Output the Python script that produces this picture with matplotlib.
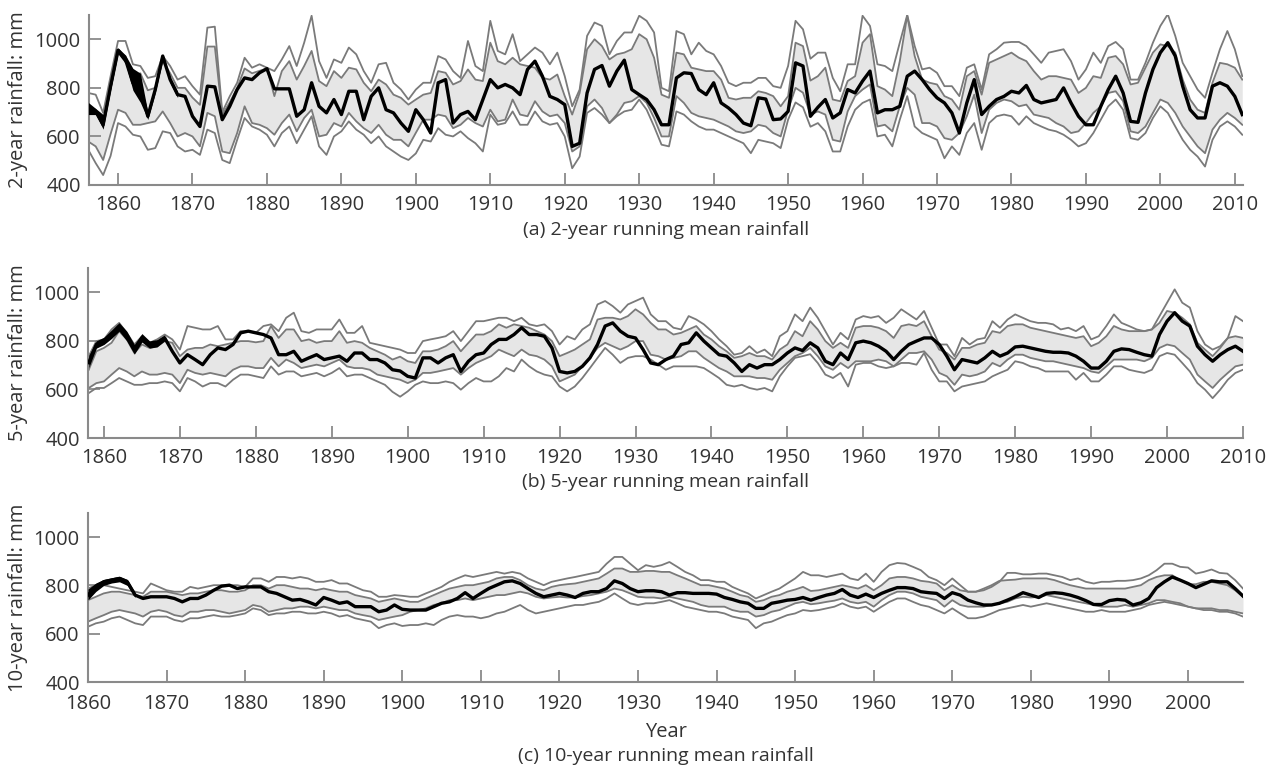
import numpy as np
import matplotlib
matplotlib.use("Agg")
import matplotlib.pyplot as plt

plt.rcParams['font.family'] = ['Open Sans', 'DejaVu Sans']

# ---------------- Panel (a): 2-year running mean, 1856-2011 ----------------
a_years = list(range(1856, 2012))
a_mean = [710, 703, 648, 807,
          955, 917, 820, 800, 683, 793, 931, 834, 772, 765,
          683, 641, 807, 804, 669, 724, 793, 841, 834, 862,
          879, 796, 796, 796, 683, 710, 821, 724, 697, 752,
          690, 786, 786, 669, 765, 800, 710, 697, 655, 621,
          710, 669, 614, 821, 834, 655, 690, 703, 669, 752,
          834, 800, 814, 800, 772, 876, 910, 848, 765, 752,
          731, 559, 572, 779, 876, 892, 807, 869, 914, 793,
          772, 752, 710, 648, 648, 841, 862, 859, 793, 772,
          821, 738, 717, 690, 655, 644, 759, 754, 669, 672,
          703, 903, 890, 683, 720, 752, 676, 697, 793, 779,
          828, 869, 697, 710, 710, 724, 848, 869, 834, 793,
          759, 738, 697, 614, 738, 834, 690, 724, 752, 765,
          786, 779, 810, 752, 738, 745, 752, 800, 738, 683,
          648, 648, 724, 793, 848, 779, 662, 658, 779, 876,
          945, 986, 931, 807, 710, 676, 676, 807, 821, 807,
          765, 690]
a_upper_outer = [779, 772, 697, 848,
                 993, 993, 897, 890, 841, 848, 931, 890, 834, 848,
                 807, 772, 1048, 1052, 700, 765, 821, 924, 883, 897,
                 883, 869, 917, 972, 890, 986, 1097, 910, 841, 917,
                 903, 966, 938, 869, 821, 897, 903, 821, 793, 752,
                 793, 821, 821, 931, 917, 869, 841, 993, 890, 869,
                 1076, 952, 938, 1021, 910, 938, 966, 945, 897, 945,
                 848, 724, 793, 1014, 1069, 1055, 938, 993, 1028, 1028,
                 1097, 1076, 1028, 800, 786, 1034, 1021, 938, 986, 952,
                 938, 890, 821, 807, 821, 821, 841, 841, 807, 800,
                 890, 1076, 1041, 920, 945, 945, 841, 786, 897, 897,
                 1097, 1055, 897, 890, 869, 986, 1100, 972, 876, 883,
                 862, 807, 807, 766, 883, 897, 793, 938, 959, 986,
                 989, 989, 972, 938, 903, 945, 952, 959, 910, 834,
                 876, 945, 903, 972, 989, 959, 834, 834, 903, 986,
                 1055, 1103, 1014, 903, 848, 793, 759, 862, 959, 1034,
                 959, 848]
a_upper_inner = [720, 710, 660, 800,
                 950, 930, 850, 860, 790, 800, 910, 860, 800, 800,
                 760, 730, 970, 970, 690, 740, 800, 880, 860, 870,
                 880, 766, 869, 910, 834, 890, 952, 828, 807, 869,
                 841, 883, 876, 821, 786, 834, 814, 772, 759, 731,
                 752, 772, 779, 869, 862, 814, 828, 876, 834, 828,
                 986, 910, 897, 924, 897, 890, 883, 841, 834, 855,
                 766, 690, 779, 959, 1000, 972, 917, 938, 945, 959,
                 1021, 1000, 924, 772, 759, 945, 938, 883, 876, 869,
                 869, 834, 759, 752, 759, 759, 786, 779, 766, 724,
                 766, 986, 972, 830, 848, 883, 752, 745, 828, 848,
                 986, 1021, 807, 793, 766, 910, 1097, 931, 834, 821,
                 814, 766, 752, 710, 848, 869, 772, 903, 917, 931,
                 945, 924, 910, 869, 834, 848, 848, 841, 834, 779,
                 800, 848, 841, 924, 931, 897, 814, 821, 883, 945,
                 979, 972, 945, 834, 752, 710, 697, 821, 903, 897,
                 883, 834]
a_lower_inner = [579, 559, 503, 610,
                 710, 697, 648, 648, 655, 662, 703, 655, 600, 614,
                 600, 559, 697, 683, 538, 531, 614, 724, 655, 648,
                 634, 607, 655, 690, 621, 676, 710, 600, 607, 655,
                 641, 697, 662, 634, 614, 648, 607, 586, 586, 559,
                 615, 669, 669, 690, 683, 634, 648, 676, 655, 641,
                 710, 662, 669, 752, 690, 683, 745, 703, 683, 690,
                 655, 538, 559, 724, 752, 717, 655, 690, 738, 745,
                 766, 738, 676, 600, 600, 766, 738, 697, 683, 676,
                 669, 655, 641, 621, 614, 621, 648, 641, 614, 600,
                 710, 800, 780, 690, 703, 690, 586, 579, 703, 766,
                 793, 814, 641, 648, 621, 724, 800, 772, 655, 655,
                 641, 593, 586, 614, 683, 772, 614, 710, 738, 752,
                 745, 724, 731, 690, 683, 676, 655, 641, 614, 621,
                 655, 697, 724, 779, 786, 745, 621, 614, 641, 697,
                 752, 738, 697, 641, 600, 559, 531, 628, 669, 697,
                 676, 648]
a_lower_outer = [545, 490, 441, 520,
                 655, 641, 607, 600, 545, 552, 621, 614, 559, 538,
                 545, 524, 628, 614, 503, 490, 586, 676, 641, 628,
                 607, 559, 614, 641, 572, 628, 683, 559, 524, 600,
                 621, 662, 628, 607, 572, 600, 559, 538, 517, 503,
                 530, 586, 579, 634, 607, 600, 621, 593, 572, 538,
                 690, 648, 655, 703, 648, 648, 703, 662, 648, 655,
                 600, 469, 517, 697, 717, 690, 655, 683, 703, 710,
                 752, 710, 641, 566, 559, 703, 690, 662, 641, 628,
                 628, 614, 600, 586, 572, 531, 586, 579, 572, 552,
                 669, 740, 720, 640, 655, 621, 538, 538, 641, 710,
                 738, 752, 600, 607, 559, 669, 766, 641, 614, 600,
                 586, 510, 559, 524, 614, 655, 545, 655, 683, 690,
                 683, 648, 683, 655, 641, 628, 621, 607, 586, 559,
                 572, 614, 669, 724, 752, 710, 593, 586, 614, 676,
                 724, 697, 641, 586, 545, 517, 476, 586, 641, 662,
                 641, 607]
a_band_years = list(range(1856, 1869))
a_band_lo = [690, 690, 630, 790, 940, 900, 790, 740, 670, 780, 915, 820, 760]
a_band_hi = [740, 715, 690, 830, 965, 935, 880, 860, 700, 810, 940, 845, 785]

# ---------------- Panel (b): 5-year running mean, 1858-2010 ----------------
b_years = list(range(1858, 2011))
b_mean = [710, 785,
          798, 826, 860, 819, 764, 812, 785, 792, 812, 757,
          709, 743, 723, 702, 743, 771, 764, 785, 833, 840,
          833, 826, 812, 743, 743, 757, 716, 730, 743, 723,
          730, 737, 716, 750, 750, 723, 723, 709, 681, 676,
          654, 647, 730, 730, 709, 730, 743, 674, 716, 743,
          750, 785, 806, 806, 826, 854, 826, 826, 819, 771,
          674, 668, 674, 695, 730, 785, 861, 874, 840, 819,
          812, 764, 709, 702, 723, 737, 785, 792, 833, 799,
          771, 743, 737, 709, 674, 702, 688, 702, 702, 723,
          750, 771, 760, 792, 771, 716, 702, 750, 723, 792,
          799, 792, 778, 757, 723, 757, 785, 799, 812, 812,
          785, 737, 681, 723, 716, 709, 730, 757, 737, 750,
          775, 778, 771, 764, 757, 753, 753, 750, 737, 716,
          688, 688, 716, 757, 767, 764, 753, 743, 737, 826,
          881, 916, 881, 861, 778, 743, 716, 743, 764, 778,
          757]
b_upper_outer = [737, 799,
                 806, 847, 874, 833, 785, 819, 792, 806, 826, 806,
                 764, 861, 854, 847, 847, 861, 806, 806, 840, 840,
                 833, 861, 868, 840, 895, 916, 840, 833, 847, 847,
                 847, 888, 833, 833, 861, 792, 785, 778, 771, 764,
                 750, 750, 799, 806, 812, 819, 840, 799, 840, 881,
                 881, 888, 895, 895, 881, 895, 868, 861, 868, 840,
                 785, 819, 806, 847, 868, 950, 964, 943, 916, 950,
                 964, 978, 909, 881, 881, 854, 847, 902, 888, 868,
                 840, 806, 778, 743, 750, 778, 750, 764, 737, 819,
                 840, 909, 881, 937, 895, 840, 785, 833, 806, 888,
                 902, 895, 902, 874, 895, 930, 909, 888, 923, 854,
                 785, 785, 737, 812, 785, 806, 812, 881, 854, 888,
                 909, 895, 881, 874, 874, 868, 847, 854, 840, 861,
                 806, 819, 861, 909, 874, 861, 847, 840, 847, 902,
                 957, 1012, 957, 937, 840, 785, 764, 778, 812, 902,
                 881]
b_upper_inner = [681, 757,
                 771, 792, 840, 806, 750, 785, 771, 778, 799, 792,
                 737, 764, 771, 771, 785, 778, 785, 792, 799, 799,
                 794, 799, 861, 812, 847, 847, 799, 806, 792, 799,
                 799, 840, 792, 799, 792, 771, 757, 743, 723, 735,
                 716, 709, 757, 757, 764, 778, 799, 757, 792, 826,
                 826, 840, 868, 854, 868, 861, 854, 840, 826, 799,
                 737, 750, 764, 785, 806, 888, 895, 895, 888, 902,
                 930, 909, 874, 847, 847, 826, 833, 847, 861, 826,
                 806, 778, 757, 730, 737, 750, 737, 737, 723, 764,
                 785, 840, 819, 881, 847, 799, 771, 792, 771, 854,
                 861, 861, 854, 840, 812, 861, 868, 861, 881, 819,
                 764, 750, 723, 771, 771, 785, 792, 840, 833, 861,
                 868, 868, 854, 847, 840, 833, 826, 819, 812, 819,
                 778, 792, 819, 861, 847, 840, 840, 840, 847, 874,
                 923, 916, 895, 868, 792, 764, 737, 771, 812, 819,
                 812]
b_lower_inner = [606, 626,
                 633, 661, 688, 674, 654, 674, 661, 661, 668, 661,
                 626, 681, 668, 661, 668, 661, 654, 681, 695, 695,
                 688, 688, 730, 695, 723, 709, 688, 695, 702, 695,
                 709, 723, 695, 688, 688, 681, 661, 654, 647, 640,
                 626, 640, 668, 668, 674, 681, 688, 661, 688, 709,
                 723, 737, 764, 750, 737, 764, 743, 737, 723, 695,
                 633, 647, 661, 695, 730, 771, 792, 778, 764, 778,
                 799, 799, 743, 737, 723, 730, 737, 757, 757, 730,
                 709, 688, 674, 654, 654, 654, 647, 647, 640, 681,
                 709, 737, 750, 771, 737, 695, 681, 709, 688, 716,
                 716, 716, 723, 716, 695, 723, 750, 750, 757, 723,
                 668, 654, 619, 661, 654, 661, 674, 709, 695, 723,
                 743, 743, 730, 723, 716, 716, 709, 702, 695, 688,
                 674, 668, 695, 723, 723, 723, 723, 716, 730, 771,
                 785, 778, 750, 723, 661, 633, 606, 640, 668, 695,
                 702]
b_lower_outer = [585, 606,
                 606, 626, 647, 633, 619, 619, 626, 626, 633, 626,
                 592, 647, 633, 612, 626, 626, 612, 640, 661, 661,
                 654, 647, 695, 661, 674, 674, 654, 661, 668, 654,
                 668, 688, 654, 661, 661, 647, 633, 619, 590, 570,
                 592, 619, 633, 626, 626, 633, 626, 599, 626, 647,
                 633, 633, 654, 688, 674, 723, 695, 674, 661, 654,
                 612, 592, 612, 647, 688, 730, 771, 743, 709, 730,
                 737, 737, 723, 702, 681, 695, 695, 695, 695, 688,
                 668, 647, 619, 612, 619, 606, 599, 606, 592, 654,
                 695, 730, 737, 745, 709, 661, 647, 668, 612, 702,
                 709, 709, 695, 688, 695, 709, 709, 702, 750, 681,
                 633, 633, 592, 612, 619, 626, 633, 654, 668, 681,
                 716, 709, 695, 688, 674, 674, 674, 674, 640, 668,
                 633, 633, 661, 695, 695, 681, 674, 668, 681, 737,
                 750, 743, 709, 674, 626, 599, 564, 599, 640, 668,
                 681]
b_band_years = list(range(1858, 1869))
b_band_lo = [690, 770, 785, 810, 840, 800, 745, 795, 770, 775, 800]
b_band_hi = [740, 800, 815, 845, 875, 840, 785, 830, 800, 805, 825]

# ---------------- Panel (c): 10-year running mean, 1860-2007 ----------------
c_years = list(range(1860, 2008))
c_mean = [760, 794, 815, 822, 829, 815, 760, 746, 753, 753,
          753, 746, 732, 746, 746, 760, 780, 797, 801, 787,
          794, 794, 794, 774, 767, 753, 739, 742, 732, 719,
          750, 739, 726, 732, 712, 712, 712, 691, 698, 719,
          701, 698, 698, 698, 712, 726, 732, 746, 770, 746,
          767, 787, 801, 815, 819, 808, 787, 767, 753, 760,
          767, 760, 750, 767, 774, 774, 787, 819, 808, 787,
          774, 778, 778, 774, 760, 770, 770, 767, 767, 767,
          764, 750, 742, 732, 726, 705, 705, 726, 732, 739,
          742, 750, 739, 750, 760, 767, 783, 760, 750, 764,
          750, 767, 780, 791, 791, 787, 774, 770, 767, 746,
          770, 760, 739, 728, 719, 719, 726, 739, 753, 770,
          760, 750, 767, 770, 767, 760, 750, 737, 721, 721,
          737, 742, 739, 719, 728, 746, 791, 815, 835, 822,
          808, 791, 805, 819, 815, 815, 787, 756]
c_upper_outer = [787, 801, 801, 794, 787, 780, 774, 767, 808, 794,
                 780, 774, 774, 794, 787, 794, 801, 801, 801, 801,
                 794, 829, 829, 815, 835, 835, 829, 835, 829, 815,
                 815, 822, 808, 808, 794, 780, 774, 753, 753, 760,
                 757, 753, 753, 767, 780, 794, 815, 829, 842, 835,
                 842, 849, 856, 849, 856, 849, 829, 815, 801, 815,
                 822, 829, 835, 842, 849, 856, 890, 918, 918, 890,
                 863, 884, 877, 884, 897, 877, 856, 842, 822, 822,
                 815, 815, 794, 780, 767, 746, 760, 774, 787, 808,
                 829, 856, 842, 842, 835, 842, 849, 829, 822, 849,
                 815, 856, 884, 893, 890, 877, 863, 835, 822, 801,
                 829, 801, 774, 774, 780, 794, 815, 852, 852, 846,
                 846, 849, 849, 842, 835, 822, 829, 815, 808, 815,
                 815, 819, 819, 822, 829, 842, 863, 890, 890, 877,
                 874, 849, 856, 866, 852, 849, 822, 787]
c_upper_inner = [739, 753, 767, 774, 774, 767, 760, 753, 774, 774,
                 774, 767, 760, 767, 767, 774, 780, 780, 774, 774,
                 780, 801, 801, 787, 801, 801, 794, 787, 787, 780,
                 787, 780, 774, 774, 760, 753, 746, 732, 739, 746,
                 739, 732, 732, 746, 760, 774, 787, 794, 801, 801,
                 808, 815, 829, 835, 835, 822, 801, 787, 780, 794,
                 801, 805, 808, 815, 822, 829, 849, 870, 870, 856,
                 856, 860, 860, 856, 856, 842, 829, 815, 801, 801,
                 794, 787, 774, 760, 753, 732, 739, 753, 760, 774,
                 783, 794, 777, 780, 787, 794, 801, 794, 787, 801,
                 780, 801, 829, 835, 835, 829, 819, 815, 808, 780,
                 801, 780, 774, 774, 787, 801, 819, 822, 824, 829,
                 829, 829, 829, 822, 811, 801, 794, 787, 787, 787,
                 787, 787, 787, 794, 801, 822, 835, 842, 842, 822,
                 805, 805, 815, 815, 808, 801, 780, 753]
c_lower_inner = [650, 664, 677, 691, 698, 691, 684, 671, 691, 698,
                 691, 677, 671, 691, 691, 698, 698, 691, 684, 691,
                 698, 719, 712, 691, 698, 705, 705, 712, 712, 705,
                 712, 705, 698, 698, 684, 677, 671, 657, 664, 671,
                 677, 691, 698, 705, 719, 726, 739, 739, 746, 739,
                 746, 753, 760, 760, 767, 774, 767, 753, 746, 750,
                 753, 750, 750, 756, 760, 767, 774, 787, 780, 767,
                 753, 750, 750, 746, 753, 746, 739, 732, 719, 712,
                 712, 712, 698, 691, 691, 671, 677, 691, 698, 712,
                 726, 732, 722, 726, 732, 737, 746, 732, 726, 732,
                 712, 739, 760, 774, 774, 767, 753, 746, 739, 712,
                 739, 719, 712, 712, 712, 719, 726, 732, 746, 753,
                 750, 753, 760, 753, 746, 739, 732, 726, 719, 712,
                 712, 712, 719, 712, 719, 726, 739, 739, 732, 726,
                 712, 705, 705, 705, 698, 698, 691, 684]
c_lower_outer = [629, 643, 650, 664, 671, 657, 643, 636, 671, 671,
                 671, 657, 650, 664, 664, 671, 677, 671, 671, 677,
                 684, 705, 698, 677, 684, 684, 691, 691, 684, 684,
                 691, 684, 671, 677, 664, 657, 650, 623, 636, 643,
                 632, 636, 636, 643, 636, 657, 671, 677, 671, 671,
                 664, 671, 684, 691, 705, 719, 698, 684, 691, 698,
                 705, 712, 719, 719, 726, 732, 746, 767, 746, 726,
                 719, 726, 726, 732, 739, 726, 712, 705, 698, 691,
                 691, 684, 671, 664, 657, 623, 643, 650, 664, 677,
                 684, 698, 694, 698, 705, 712, 726, 712, 705, 712,
                 691, 712, 732, 746, 746, 732, 719, 712, 698, 684,
                 705, 684, 664, 664, 671, 684, 698, 705, 712, 719,
                 712, 719, 726, 719, 712, 705, 698, 691, 691, 698,
                 691, 691, 691, 698, 705, 719, 726, 732, 726, 719,
                 712, 705, 698, 698, 691, 691, 684, 671]
c_band_years = list(range(1860, 1867))
c_band_lo = [740, 775, 800, 810, 815, 800, 750]
c_band_hi = [785, 810, 825, 832, 838, 825, 770]

y_ticks = [400, 600, 800, 1000]

panels = [
    dict(rect=[89/1268, 1-185/768, 1154/1268, 170/768], xlim=(1856.1, 2011.1),
         xticks=list(range(1860, 2011, 10)), years=a_years, mean=a_mean,
         uo=a_upper_outer, ui=a_upper_inner, li=a_lower_inner, lo=a_lower_outer,
         by=a_band_years, blo=a_band_lo, bhi=a_band_hi,
         ylabel="2-year rainfall: mm", caption="(a) 2-year running mean rainfall",
         cap_y=230, xpad=7),
    dict(rect=[88/1268, 1-438/768, 1155/1268, 170/768], xlim=(1857.9, 2010.0),
         xticks=list(range(1860, 2011, 10)), years=b_years, mean=b_mean,
         uo=b_upper_outer, ui=b_upper_inner, li=b_lower_inner, lo=b_lower_outer,
         by=b_band_years, blo=b_band_lo, bhi=b_band_hi,
         ylabel="5-year rainfall: mm", caption="(b) 5-year running mean rainfall",
         cap_y=482, xpad=7),
    dict(rect=[88/1268, 1-682/768, 1155/1268, 169/768], xlim=(1860.0, 2007.0),
         xticks=list(range(1860, 2001, 10)), years=c_years, mean=c_mean,
         uo=c_upper_outer, ui=c_upper_inner, li=c_lower_inner, lo=c_lower_outer,
         by=c_band_years, blo=c_band_lo, bhi=c_band_hi,
         ylabel="10-year rainfall: mm", caption="(c) 10-year running mean rainfall",
         cap_y=756, xpad=8.5),
]

TXT = '#333333'
SPINE = '#8a8a8a'
GREY = '#7a7a7a'
FILL = '#e6e6e6'

fig = plt.figure(figsize=(12.68, 7.68), dpi=100)
for p in panels:
    ax = fig.add_axes(p['rect'])
    yrs = np.array(p['years'])
    ax.fill_between(yrs, p['li'], p['ui'], color=FILL, lw=0, zorder=1)
    for s in (p['uo'], p['ui'], p['li'], p['lo']):
        ax.plot(yrs, s, color=GREY, lw=1.3, zorder=2)
    ax.fill_between(p['by'], p['blo'], p['bhi'], color='black', lw=0, zorder=3)
    ax.plot(yrs, p['mean'], color='black', lw=2.4, zorder=4)
    ax.set_xlim(*p['xlim'])
    ax.set_ylim(400, 1100)
    ax.set_xticks(p['xticks'])
    ax.set_yticks(y_ticks)
    for side in ('top', 'right'):
        ax.spines[side].set_visible(False)
    for side in ('left', 'bottom'):
        ax.spines[side].set_color(SPINE)
        ax.spines[side].set_linewidth(1.5)
    ax.tick_params(axis='both', direction='in', length=8.5, width=1.3,
                   color=SPINE, labelcolor=TXT, labelsize=14.5)
    ax.tick_params(axis='x', pad=p['xpad'])
    ax.tick_params(axis='y', pad=6)
    bb = p['rect']
    fig.text(18/1268, bb[1] + bb[3]/2, p['ylabel'], rotation=90,
             ha='center', va='center', fontsize=14.5, color=TXT)
    fig.text(bb[0] + bb[2]/2, 1 - p['cap_y']/768, p['caption'],
             ha='center', va='center', fontsize=14, color=TXT)

fig.text(panels[2]['rect'][0] + panels[2]['rect'][2]/2, 1 - 732/768, "Year",
         ha='center', va='center', fontsize=14.5, color=TXT)

fig.savefig("out.png", dpi=100)
